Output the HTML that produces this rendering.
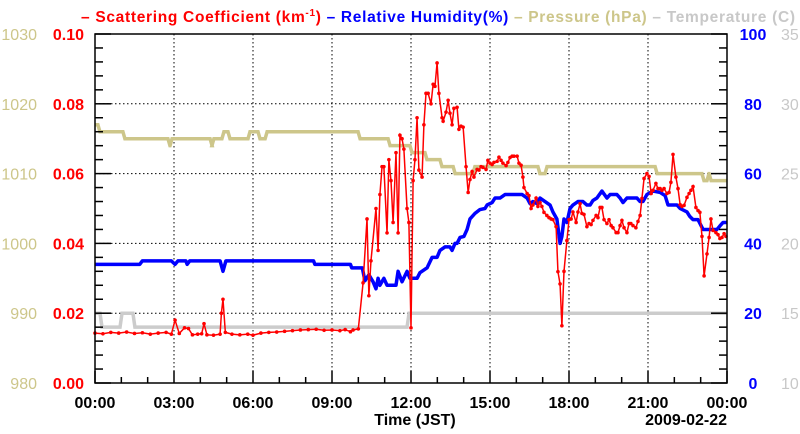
<!DOCTYPE html>
<html><head><meta charset="utf-8"><style>
html,body{margin:0;padding:0;background:#fff;}
svg{display:block;font-family:"Liberation Sans",Arial,sans-serif;}
</style></head><body>
<svg id="chart" width="800" height="434" viewBox="0 0 800 434" xmlns="http://www.w3.org/2000/svg">
<text x="81" y="22" font-size="15.5" font-weight="bold" textLength="714" lengthAdjust="spacing"><tspan fill="#ff0000">– Scattering Coefficient (km<tspan font-size="10" dy="-6">-1</tspan><tspan dy="6">)</tspan></tspan><tspan fill="#0000ff"> – Relative Humidity(%)</tspan><tspan fill="#cdc68a"> – Pressure (hPa)</tspan><tspan fill="#c8c8c8"> – Temperature (C)</tspan></text>
<g id="grid"></g>
<g id="series"></g>
<g id="axes"></g>
</svg>
<script>
// ---- data ----
const scatHours = [0,0.3,0.6,0.9,1.2,1.5,1.8,2.1,2.4,2.7,2.9,3.04,3.2,3.4,3.55,3.7,3.9,4.05,4.14,4.25,4.5,4.75,4.8,4.86,4.95,5.2,5.5,5.8,6.0,6.3,6.6,6.9,7.2,7.5,7.8,8.1,8.4,8.7,9.0,9.3,9.5,9.7,9.8,10.0,
10.18,10.33,10.40,10.48,10.67,10.75,10.82,10.90,10.97,11.09,11.16,11.24,11.32,11.43,11.51,11.58,11.66,11.73,11.85,11.92,12.00,12.08,12.15,12.23,12.30,12.42,12.49,12.57,12.65,12.76,12.84,12.91,12.99,13.06,13.18,13.22,13.33,13.41,13.48,13.56,13.63,13.75,13.82,13.90,13.98,14.09,14.17,14.24,14.32,14.39,14.51,14.58,14.66,14.73,14.85,14.92,15.0,15.08,15.15,15.27,15.34,15.42,15.49,15.61,15.68,15.76,15.84,15.91,16.03,16.10,16.18,16.25,16.29,16.41,16.48,16.56,16.63,16.75,16.82,16.90,16.97,17.05,17.16,17.24,17.32,17.39,17.51,17.58,17.66,17.73,17.81,17.92,18.0,18.08,18.15,18.27,18.34,18.42,18.49,18.57,18.68,18.76,18.84,18.91,19.03,19.10,19.18,19.25,19.33,19.44,19.52,19.6,19.67,19.79,19.86,19.94,20.01,20.09,20.2,20.28,20.35,20.43,20.54,20.62,20.70,20.77,20.85,20.96,21.04,21.12,21.19,21.3,21.38,21.46,21.53,21.61,21.72,21.80,21.87,21.95,22.06,22.14,22.22,22.29,22.37,22.48,22.56,22.63,22.71,22.82,22.90,22.97,23.05,23.13,23.24,23.32,23.39,23.47,23.58,23.66,23.73,23.81,23.89,23.96];
const scatValues = [0.0143,0.0141,0.0145,0.0143,0.0146,0.0142,0.0144,0.0140,0.0143,0.0145,0.0140,0.018,0.0142,0.0158,0.0156,0.0138,0.0140,0.0141,0.0170,0.0138,0.0137,0.0140,0.0200,0.0240,0.0145,0.0140,0.0138,0.0140,0.0137,0.0143,0.0145,0.0146,0.0148,0.0150,0.0152,0.0153,0.0154,0.0151,0.0152,0.0150,0.0153,0.0147,0.0152,0.0155,
0.0287,0.047,0.025,0.035,0.050,0.038,0.054,0.062,0.062,0.043,0.064,0.058,0.046,0.066,0.043,0.071,0.070,0.067,0.050,0.046,0.0158,0.058,0.064,0.076,0.061,0.059,0.074,0.083,0.083,0.080,0.0856,0.085,0.0917,0.083,0.076,0.075,0.0776,0.081,0.0773,0.074,0.0787,0.079,0.0727,0.0736,0.0733,0.062,0.0546,0.0583,0.0606,0.059,0.0612,0.061,0.062,0.0618,0.0612,0.0638,0.063,0.0626,0.0632,0.0635,0.0647,0.0638,0.063,0.0623,0.0632,0.0646,0.065,0.065,0.065,0.063,0.0624,0.059,0.056,0.0543,0.0537,0.050,0.051,0.053,0.0506,0.0517,0.0506,0.0489,0.048,0.0474,0.047,0.0468,0.0448,0.0319,0.0284,0.0164,0.032,0.0408,0.0468,0.047,0.049,0.046,0.049,0.0514,0.0486,0.0483,0.0448,0.0457,0.0454,0.0466,0.048,0.0474,0.0503,0.0503,0.0468,0.0457,0.0468,0.0451,0.0445,0.0431,0.0431,0.0451,0.0466,0.0445,0.0431,0.0457,0.0457,0.0451,0.0445,0.0463,0.048,0.0529,0.0586,0.060,0.0592,0.0543,0.0552,0.0572,0.0557,0.0557,0.0552,0.0557,0.0543,0.0546,0.0575,0.0655,0.059,0.0557,0.0511,0.0506,0.0509,0.0532,0.0543,0.0552,0.0563,0.0503,0.0494,0.0489,0.042,0.0307,0.037,0.0417,0.047,0.0437,0.0431,0.0425,0.0414,0.0417,0.0428,0.042];
const rhHours = [0,1.7,1.8,2.9,3.04,3.15,3.45,3.5,3.6,4.75,4.86,4.97,8.3,8.35,9.7,9.75,10.15,10.25,10.4,10.56,10.67,10.75,10.82,10.97,11.09,11.43,11.51,11.66,11.85,11.96,12.23,12.34,12.61,12.8,12.99,13.1,13.29,13.48,13.56,13.67,13.75,13.86,14.01,14.13,14.24,14.43,14.62,14.81,14.89,15.08,15.19,15.38,15.57,16.22,16.41,16.52,16.63,16.78,16.9,17.09,17.28,17.39,17.54,17.66,17.73,17.81,17.92,18.04,18.15,18.34,18.53,18.68,18.8,18.91,19.06,19.25,19.44,19.56,19.82,19.94,20.05,20.2,20.58,20.7,20.81,20.96,21.19,21.46,21.65,21.76,22.1,22.22,22.48,22.59,22.71,22.9,23.09,23.62,23.73,23.85,24];
const rhValues = [34,34,35,35,34,35,35,34,35,35,32,35,35,34,34,33,33,29.3,31,29,27,30,28,30,28,28,32,29,32,30,30,31.6,33,36,36,38,39,39,38,40,40,41.7,42,44,47,48.6,49.7,50,51,51.7,53,53,54,54,53,51.4,52,51.4,53,52,51,49,47,40,42,47,46,50,51,52,52,51,51,52.3,53,55,53,54,54,53,51.7,53,53,52,52,54,55,54.6,53.7,51,51,50,49,47.7,46.8,46.8,44,44,45,46,46];
const presHours = [0,0.11,1.06,2.77,2.85,4.37,4.44,4.82,5.05,5.81,6.19,6.46,9.99,11.13,11.96,12.53,13.1,13.6,14.35,16.82,17.09,21.27,23.05,23.24,23.32];
const presValues = [1017,1016,1015,1014,1015,1014,1015,1016,1015,1016,1015,1016,1015,1014,1013,1012,1011,1010,1011,1010,1011,1010,1009,1010,1009];
const tempHours = [0,0.19,0.95,1.44,11.85];
const tempValues = [15,14,15,14,15];
const xTickLabels = ["00:00","03:00","06:00","09:00","12:00","15:00","18:00","21:00","00:00"];
const scatTicks = ["0.00","0.02","0.04","0.06","0.08","0.10"];
const presTicks = ["980","990","1000","1010","1020","1030"];
const rhTicks = ["0","20","40","60","80","100"];
const tempTicks = ["10","15","20","25","30","35"];

// ---- layout ----
const L=95,R=727,T=34,B=383;
const NS="http://www.w3.org/2000/svg";
const x = h => L + h/24*(R-L);
const frac = f => B - f*(B-T);
const yScat = v => frac(v/0.1);
const yRH = v => frac(v/100);
const yPres = v => frac((v-980)/50);
const yTemp = v => frac((v-10)/25);
function mk(tag, attrs, parent){const e=document.createElementNS(NS,tag);for(const k in attrs)e.setAttribute(k,attrs[k]);parent.appendChild(e);return e;}
const grid=document.getElementById('grid'), series=document.getElementById('series'), axes=document.getElementById('axes');

// grid
for(let i=1;i<8;i++){const g=mk('line',{x1:x(i*3),x2:x(i*3),y1:T,y2:B,stroke:'#000','stroke-width':1,'stroke-dasharray':'1.5,2.5'},grid);

}
for(let i=1;i<5;i++){const g=mk('line',{x1:L,x2:R,y1:frac(i/5),y2:frac(i/5),stroke:'#000','stroke-width':1,'stroke-dasharray':'1.5,2.5'},grid);

}

// step series
function stepPts(hs,vs,yf){let p=[];for(let i=0;i<hs.length;i++){if(i===0)p.push([x(hs[0]),yf(vs[0])]);else{p.push([x(hs[i]),yf(vs[i-1])]);p.push([x(hs[i])+2,yf(vs[i])]);}}p.push([x(24),yf(vs[vs.length-1])]);return p.map(q=>q.join(',')).join(' ');}
const tl=mk('polyline',{points:stepPts(tempHours,tempValues,yTemp),fill:'none',stroke:'#cccccc','stroke-width':3.5},series);


const pl=mk('polyline',{points:stepPts(presHours,presValues,yPres),fill:'none',stroke:'#cdc68a','stroke-width':3.5},series);


const rl=mk('polyline',{points:rhHours.map((h,i)=>x(h)+','+yRH(rhValues[i])).join(' '),fill:'none',stroke:'#0000ff','stroke-width':3.5,'stroke-linejoin':'round'},series);


const sl=mk('polyline',{points:scatHours.map((h,i)=>x(h)+','+yScat(scatValues[i])).join(' '),fill:'none',stroke:'#ff0000','stroke-width':1.5},series);


scatHours.forEach((h,i)=>{const c=mk('circle',{cx:x(h),cy:yScat(scatValues[i]),r:1.8,fill:'#ff0000'},series);

});

// frame
const fr=mk('rect',{x:L,y:T,width:R-L,height:B-T,fill:'none',stroke:'#000','stroke-width':1.5},axes);


// y ticks
for(let i=0;i<=25;i++){const yy=frac(i/25);const len=(i%5===0)?16:8;
mk('line',{x1:L,x2:L+len,y1:yy,y2:yy,stroke:'#000','stroke-width':1.5},axes);
mk('line',{x1:R,x2:R-len,y1:yy,y2:yy,stroke:'#000','stroke-width':1.5},axes);}
for(let h=0;h<=24;h++){const len=(h%3===0)?12:6;mk('line',{x1:x(h),x2:x(h),y1:B,y2:B-len,stroke:'#000','stroke-width':1.5},axes);}
// labels
function txt(s,attrs,name){const t=mk('text',attrs,axes);t.textContent=s;

return t;}
for(let i=0;i<6;i++){const yy=frac(i/5)+6;
txt(scatTicks[i],{x:84,y:yy,'text-anchor':'end','font-size':16,'font-weight':'bold',fill:'#ff0000'},'scattering-tick-label');
txt(presTicks[i],{x:37,y:yy,'text-anchor':'end','font-size':16,fill:'#cdc68a'},'pressure-tick-label');
txt(rhTicks[i],{x:753,y:yy,'text-anchor':'middle','font-size':16,'font-weight':'bold',fill:'#0000ff'},'humidity-tick-label');
txt(tempTicks[i],{x:781,y:yy,'text-anchor':'start','font-size':16,fill:'#c8c8c8'},'temperature-tick-label');}
xTickLabels.forEach((s,i)=>txt(s,{x:x(i*3),y:408,'text-anchor':'middle','font-size':16,'font-weight':'bold',fill:'#000'},'x-tick-label'));
txt('Time (JST)',{x:415,y:425,'text-anchor':'middle','font-size':16,'font-weight':'bold',fill:'#000'},'x-axis-title');
txt('2009-02-22',{x:727,y:425,'text-anchor':'end','font-size':16,'font-weight':'bold',fill:'#000'},'date-label');
</script>
</body></html>
